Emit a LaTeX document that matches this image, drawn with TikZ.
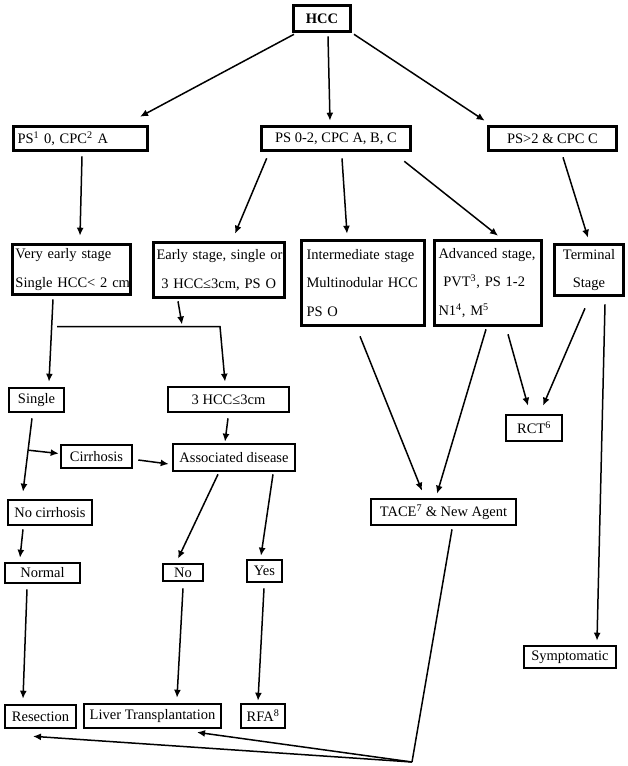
\documentclass[tikz,border=0pt]{standalone}
\usepackage{fontspec}
\setmainfont{Liberation Serif}
\usetikzlibrary{arrows.meta,calc}
\newcommand\boxfont{\fontsize{14.5}{28.5}\selectfont}
\begin{document}
\begin{tikzpicture}[x=1pt,y=-1pt,
 bx/.style={draw, line width=2.6pt, inner sep=0pt, font=\boxfont, align=center},
 lbx/.style={bx, align=left},
 arr/.style={line width=1.5pt, -{Latex[length=8pt,width=7pt]}},
 ln/.style={line width=1.5pt}]
\useasboundingbox (0,0) rectangle (628,766);
\fill[white] (0,0) rectangle (628,766);
% boxes
\node[bx, minimum width=57, minimum height=26] (hcc) at (322,18.5) {\textbf{HCC}};
\node[lbx, text width=126, inner xsep=4, minimum height=24.5] (ps1) at (80.5,138.5) {\mbox{PS\textsuperscript{1} 0, CPC\textsuperscript{2} A}};
\node[bx, minimum width=149, minimum height=24.5] (ps02) at (336,138.5) {PS 0-2, CPC A, B, C};
\node[bx, minimum width=128, minimum height=24.5] (ps2) at (552.5,138.5) {PS>2 \& CPC C};
\node[lbx, text width=112, inner xsep=3, minimum height=50] (vearly) at (71.5,269.5) {\mbox{Very early stage}\\\mbox{Single HCC< 2 cm}};
\node[lbx, text width=125, inner xsep=3, minimum height=55] (early) at (219,270) {\mbox{Early stage, single or}\\\mbox{ 3 HCC≤3cm, PS O}};
\node[lbx, text width=113, inner xsep=5, minimum height=85] (inter) at (363,283) {\mbox{Intermediate stage}\\\mbox{Multinodular HCC}\\\mbox{PS O}};
\node[lbx, text width=99, inner xsep=4, minimum height=85] (adv) at (488,283) {\mbox{Advanced stage,}\\\mbox{ PVT\textsuperscript{3}, PS 1-2}\\\mbox{N1\textsuperscript{4}, M\textsuperscript{5}}};
\node[bx, minimum width=69, minimum height=51] (term) at (589,270) {Terminal\\ Stage};
\node[bx, minimum width=55, minimum height=24] (single) at (36.5,400) {Single};
\node[bx, minimum width=121, minimum height=25] (hcc3) at (228.5,399.5) {3 HCC≤3cm};
\node[bx, minimum width=71, minimum height=23] (cirr) at (96.5,456.5) {Cirrhosis};
\node[bx, minimum width=122, minimum height=27] (assoc) at (234,457.5) {Associated disease};
\node[bx, minimum width=84, minimum height=25] (nocirr) at (50,512.5) {No cirrhosis};
\node[bx, minimum width=75, minimum height=20] (normal) at (42.5,573) {Normal};
\node[bx, minimum width=40, minimum height=17] (no) at (183,572.5) {No};
\node[bx, minimum width=35, minimum height=22] (yes) at (264.5,571) {Yes};
\node[bx, minimum width=71, minimum height=23] (resect) at (40.5,716.5) {Resection};
\node[bx, minimum width=137, minimum height=24] (liver) at (152.5,716) {Liver Transplantation};
\node[bx, minimum width=44, minimum height=24] (rfa) at (263,716) {RFA\textsuperscript{8}};
\node[bx, minimum width=145, minimum height=26] (tace) at (443.5,512) {TACE\textsuperscript{7} \& New Agent};
\node[bx, minimum width=56, minimum height=26] (rct) at (534,428) {RCT\textsuperscript{6}};
\node[bx, minimum width=92, minimum height=22] (sympt) at (570,657) {Symptomatic};
% free points
\coordinate (hl) at (57,326.5);
\coordinate (hc) at (220,326.5);
\coordinate (v) at (412,762);
% connectors
\draw[arr] ([shift={(-28,1.5)}]hcc.south) -- ([shift={(59.5,-8.25)}]ps1.north);
\draw[arr] ([shift={(6,3.5)}]hcc.south) -- ([shift={(-6,-4.25)}]ps02.north);
\draw[arr] ([shift={(32,1.5)}]hcc.south) -- ([shift={(-2.5,-4.25)}]ps2.north west);
\draw[arr] ([shift={(1.5,4.25)}]ps1.south) -- ([shift={(8.5,-7.5)}]vearly.north);
\draw[arr] ([shift={(6.5,6.25)}]ps02.south west) -- ([shift={(16,-7.5)}]early.north);
\draw[arr] ([shift={(6,6.25)}]ps02.south) -- ([shift={(-16,-5.5)}]inter.north);
\draw[arr] ([shift={(-7.5,9.25)}]ps02.south east) -- ([shift={(10,-3.5)}]adv.north);
\draw[arr] ([shift={(10.5,5.25)}]ps2.south) -- ([shift={(-1,-5.5)}]term.north);
\draw[arr] ([shift={(-18.5,3.5)}]vearly.south) -- ([shift={(12.5,-5)}]single.north);
\draw[arr] ([shift={(-41,2.5)}]early.south) -- ([shift={(125,-2)}]hl);
\draw[arr] (hl) -- (hc) -- ([shift={(-3.5,-4)}]hcc3.north);
\coordinate (s1) at ([shift={(-4.5,5)}]single.south);
\coordinate (s2) at ([shift={(-27,-7)}]nocirr.north);
\draw[arr] (s1) -- (s2);
\draw[arr] ($(s1)!0.434!(s2)$) -- ([shift={(-1,-3)}]cirr.west);
\draw[arr] ([shift={(5,3.5)}]cirr.east) -- ([shift={(-3,6.5)}]assoc.west);
\draw[arr] ([shift={(-0.5,5)}]hcc3.south) -- ([shift={(-9,-1)}]assoc.north);
\draw[arr] ([shift={(-27,3)}]nocirr.south) -- ([shift={(-22.5,-4)}]normal.north);
\draw[arr] ([shift={(-16,2)}]assoc.south) -- ([shift={(-5,-4)}]no.north);
\draw[arr] ([shift={(39,2)}]assoc.south) -- ([shift={(-3.5,-3)}]yes.north);
\draw[arr] ([shift={(-15.5,5)}]normal.south) -- ([shift={(-17.5,-5)}]resect.north);
\draw[arr] ([shift={(0,6)}]no.south) -- ([shift={(24.5,-5)}]liver.north);
\draw[arr] ([shift={(-0.5,5)}]yes.south) -- ([shift={(-5,-2)}]rfa.north);
\draw[arr] ([shift={(-3,9.5)}]inter.south) -- ([shift={(-21.5,-7)}]tace.north);
\draw[arr] ([shift={(-2,2.5)}]adv.south) -- ([shift={(-6.5,-4)}]tace.north);
\draw[arr] ([shift={(20,7.5)}]adv.south) -- ([shift={(-6,-8)}]rct.north);
\draw[arr] ([shift={(-4,11.5)}]term.south) -- ([shift={(9,-8)}]rct.north);
\draw[arr] ([shift={(16,7.5)}]term.south) -- ([shift={(27,-4)}]sympt.north);
\draw[ln] ([shift={(8.5,3)}]tace.south) -- (v);
\draw[arr] (v) -- ([shift={(-7.5,7)}]resect.south);
\draw[arr] (v) -- ([shift={(44.5,3)}]liver.south);
\end{tikzpicture}
\end{document}
